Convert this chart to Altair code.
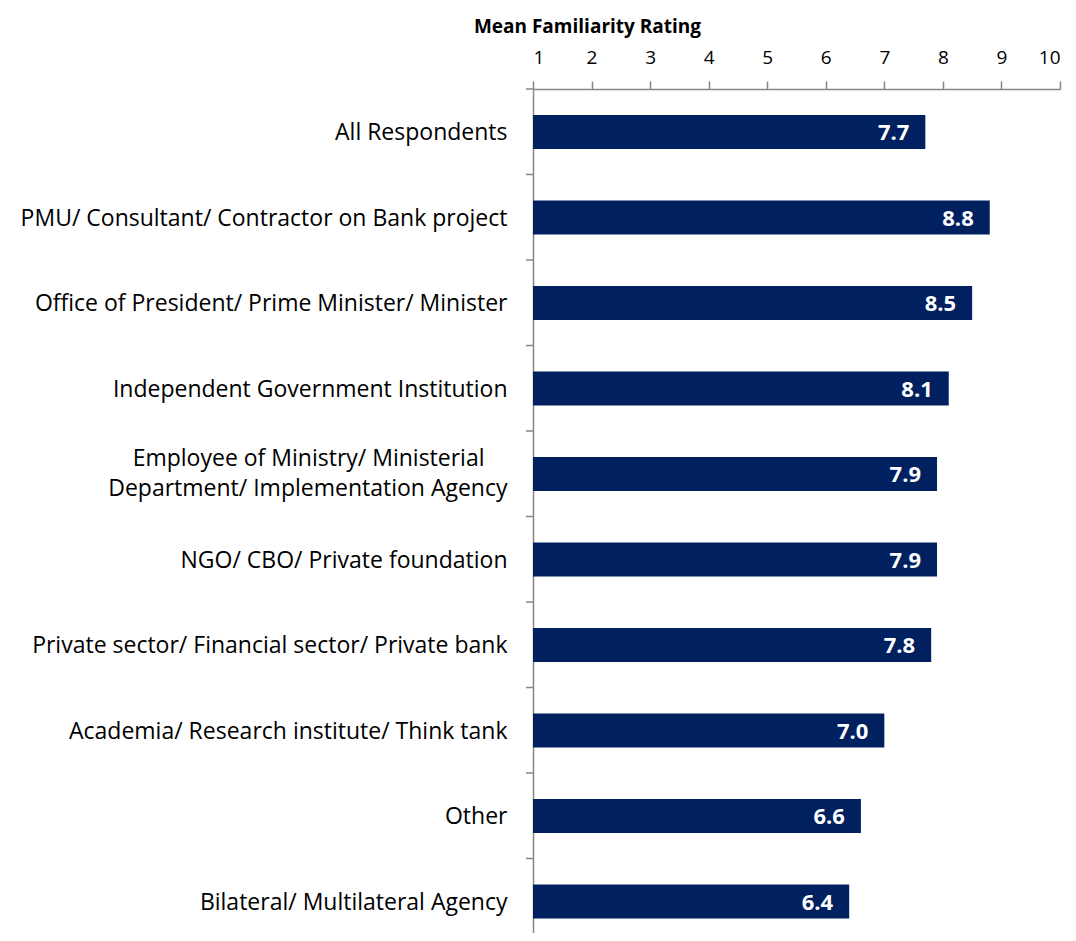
import altair as alt
import pandas as pd

categories = [
    "All Respondents",
    "PMU/ Consultant/ Contractor on Bank project",
    "Office of President/ Prime Minister/ Minister",
    "Independent Government Institution",
    "Employee of Ministry/ Ministerial\u2002\u2002\u200b|Department/ Implementation  Agency",
    "NGO/ CBO/ Private foundation",
    "Private sector/ Financial sector/ Private bank",
    "Academia/ Research institute/ Think tank",
    "Other",
    "Bilateral/ Multilateral  Agency",
]
values = [7.7, 8.8, 8.5, 8.1, 7.9, 7.9, 7.8, 7.0, 6.6, 6.4]
x_ticks = [1, 2, 3, 4, 5, 6, 7, 8, 9, 10]
boundaries = list(range(10))

df = pd.DataFrame({"cat": categories, "val": values})
bdf = pd.DataFrame({"b": boundaries})

N = len(categories)
H = 844
STEP = 85.5
PI = 0.6
PO = (H / STEP - N + PI) / 2
ALIGN = (43 - STEP * (1 - PI) / 2) / (2 * PO * STEP)

FONT = "Open Sans"
NAVY = "#002060"
GRAY = "#868686"

yscale = alt.Scale(domain=categories, paddingInner=PI, paddingOuter=PO, align=ALIGN)
xscale = alt.Scale(domain=[1, 10], nice=False, zero=False)

y_enc = alt.Y(
    "cat:N",
    scale=yscale,
    sort=None,
    axis=alt.Axis(
        title=None,
        ticks=False,
        domainColor=GRAY,
        domainWidth=1.5,
        labelFont=FONT,
        labelFontSize=23,
        labelColor="#000000",
        labelPadding=26,
        labelLimit=600,
        labelExpr="split(datum.value, '|')",
        labelLineHeight=30,
        labelOffset={"condition": {"test": "indexof(datum.value, '|') >= 0", "value": -15}, "value": 1},
    ),
)

bars = alt.Chart(df).mark_bar(color=NAVY).encode(
    x=alt.X(
        "val:Q",
        scale=xscale,
        axis=alt.Axis(
            orient="top",
            values=x_ticks,
            format="d",
            title="Mean Familiarity Rating",
            titleFont=FONT,
            titleFontSize=19,
            titleFontWeight="bold",
            titleColor="#000000",
            titleX=54,
            titleY=-57,
            titleAlign="center",
            titleBaseline="alphabetic",
            labelFont=FONT,
            labelFontSize=19,
            labelColor="#000000",
            labelPadding=14,
            tickColor=GRAY,
            tickSize=8,
            tickWidth=1.5,
            domainColor=GRAY,
            domainWidth=1.5,
            grid=False,
        ),
    ),
    x2=alt.datum(1),
    y=y_enc,
)

labels = alt.Chart(df).mark_text(
    align="right",
    baseline="middle",
    dx=-16,
    dy=1,
    color="white",
    font=FONT,
    fontSize=22,
    fontWeight="bold",
).encode(
    x=alt.X("val:Q", scale=xscale),
    y=y_enc,
    text=alt.Text("val:Q", format=".1f"),
)

ticks = alt.Chart(bdf).mark_rule(color=GRAY, strokeWidth=1.5).encode(
    x=alt.value(-7),
    x2=alt.value(0),
    y=alt.Y("b:Q", scale=alt.Scale(domain=[0, H / STEP], reverse=True, nice=False, zero=False), axis=None),
)

main = alt.layer(bars, labels)
chart = (
    alt.layer(main, ticks)
    .resolve_scale(y="independent")
    .properties(
        width=527,
        height=H,
        autosize=alt.AutoSizeParams(type="none"),
        padding={"left": 525, "top": 81, "right": 8, "bottom": 0},
    )
    .configure_view(stroke=None)
)

chart.save("out.html", embed_options={"renderer": "svg", "actions": False})
